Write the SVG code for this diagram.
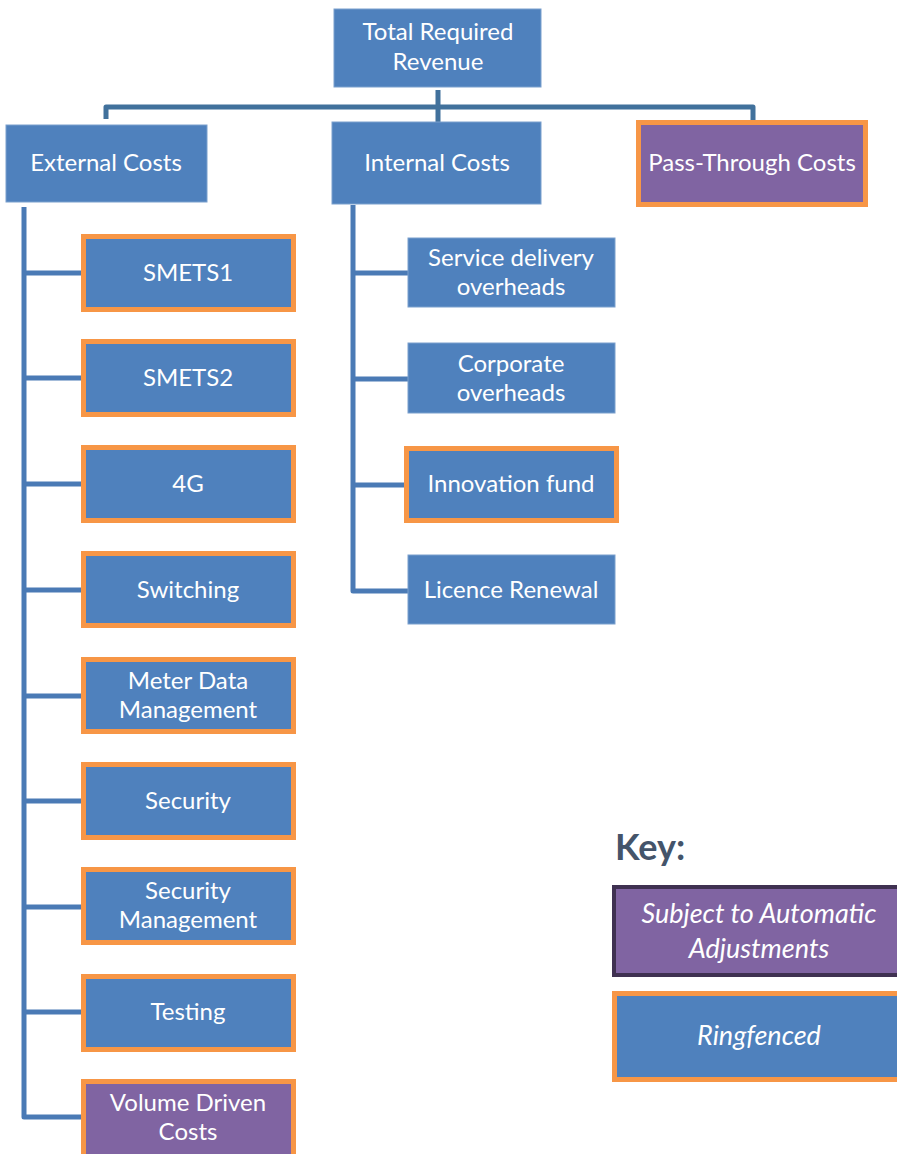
<svg xmlns="http://www.w3.org/2000/svg" width="897" height="1154" viewBox="0 0 897 1154">
<style>
.b{fill:#4F81BD;stroke:#7BA0CD;stroke-width:1}
.r{fill:#4F81BD;stroke:#F79646;stroke-width:5}
.p{fill:#8064A2;stroke:#F79646;stroke-width:5}
.k{fill:#8064A2;stroke:#3F3151;stroke-width:4}
.t{font-family:Lato,"Liberation Sans",sans-serif;font-size:24px;fill:#fff;text-anchor:middle}
.i{font-style:italic;font-size:27px}
.c{fill:none;stroke:#41719C;stroke-width:5;stroke-linejoin:round}
.c2{fill:none;stroke:#4A7AB5;stroke-width:5;stroke-linejoin:round}
</style>
<g id="connectors">
<path class="c" d="M438,90 V122 M106,119 V107 H753 V120"/>
<path class="c2" d="M24,207 V1117 H81 M24,273 H81 M24,378 H81 M24,484 H81 M24,590 H81 M24,696 H81 M24,801 H81 M24,907 H81 M24,1012 H81"/>
<path class="c2" d="M353,205 V591 H408 M353,273 H408 M353,379 H408 M353,485 H404"/>
</g>
<g id="total"><rect class="b" x="334" y="9" width="207" height="78"/><text class="t" x="438" y="40">Total Required</text><text class="t" x="438" y="70">Revenue</text></g>
<g id="external"><rect class="b" x="6" y="125" width="201" height="77"/><text class="t" x="106" y="171">External Costs</text></g>
<g id="internal"><rect class="b" x="332" y="122" width="209" height="82"/><text class="t" x="437" y="171">Internal Costs</text></g>
<g id="passthrough"><rect class="p" x="638.5" y="122.5" width="227" height="82"/><text class="t" x="752" y="171">Pass-Through Costs</text></g>
<g id="smets1"><rect class="r" x="83.5" y="236.5" width="210" height="73"/><text class="t" x="188" y="281">SMETS1</text></g>
<g id="smets2"><rect class="r" x="83.5" y="341.5" width="210" height="73"/><text class="t" x="188" y="386">SMETS2</text></g>
<g id="g4"><rect class="r" x="83.5" y="447.5" width="210" height="73"/><text class="t" x="188" y="492">4G</text></g>
<g id="switching"><rect class="r" x="83.5" y="553.5" width="210" height="72"/><text class="t" x="188" y="598">Switching</text></g>
<g id="meterdata"><rect class="r" x="83.5" y="659.5" width="210" height="72"/><text class="t" x="188" y="689">Meter Data</text><text class="t" x="188" y="718">Management</text></g>
<g id="security"><rect class="r" x="83.5" y="764.5" width="210" height="73"/><text class="t" x="188" y="809">Security</text></g>
<g id="secmgmt"><rect class="r" x="83.5" y="869.5" width="210" height="73"/><text class="t" x="188" y="899">Security</text><text class="t" x="188" y="928">Management</text></g>
<g id="testing"><rect class="r" x="83.5" y="976.5" width="210" height="73"/><text class="t" x="188" y="1020">Testing</text></g>
<g id="volume"><rect class="p" x="83.5" y="1081.5" width="210" height="80"/><text class="t" x="188" y="1111">Volume Driven</text><text class="t" x="188" y="1140">Costs</text></g>
<g id="servicedelivery"><rect class="b" x="408" y="238" width="207" height="69"/><text class="t" x="511" y="266">Service delivery</text><text class="t" x="511" y="295">overheads</text></g>
<g id="corporate"><rect class="b" x="408" y="343" width="207" height="70"/><text class="t" x="511" y="372">Corporate</text><text class="t" x="511" y="401">overheads</text></g>
<g id="innovation"><rect class="r" x="406.5" y="448.5" width="210" height="72"/><text class="t" x="511" y="492">Innovation fund</text></g>
<g id="licence"><rect class="b" x="408" y="555" width="207" height="69"/><text class="t" x="511" y="598">Licence Renewal</text></g>
<g id="key">
<text x="615" y="860" style="font-family:Lato,'Liberation Sans',sans-serif;font-size:36px;font-weight:bold;fill:#44546A">Key:</text>
<rect class="k" x="614" y="887" width="300" height="88"/>
<text class="t i" x="759" y="923">Subject to Automatic</text><text class="t i" x="759" y="958">Adjustments</text>
<rect class="r" x="614.5" y="993.5" width="300" height="86"/>
<text class="t i" x="759" y="1045">Ringfenced</text>
</g>
</svg>
